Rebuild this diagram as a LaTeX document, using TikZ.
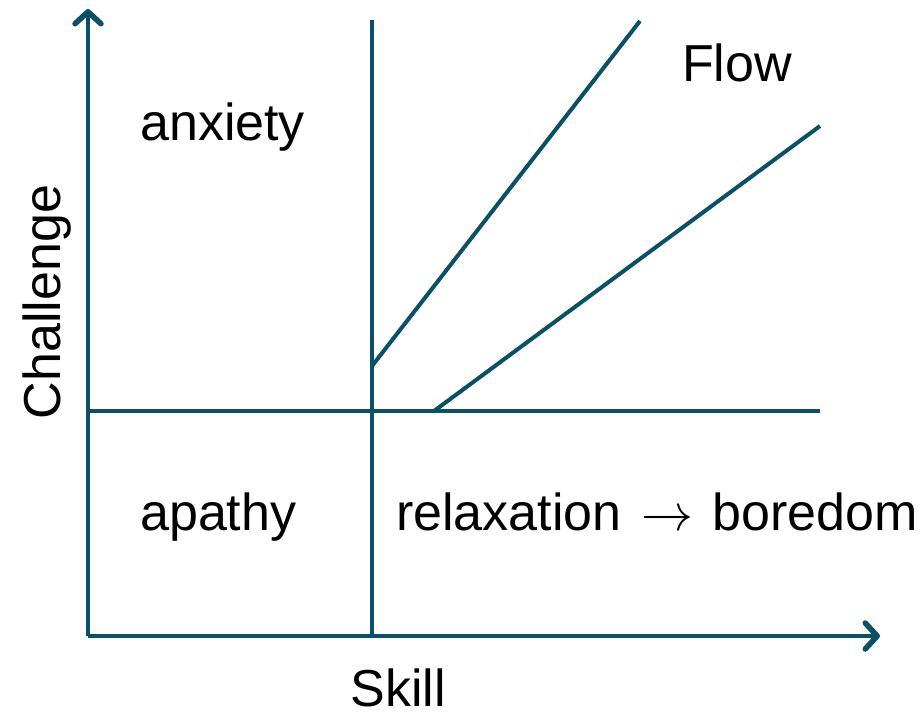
\RequirePackage{fix-cm}
\documentclass[tikz,border=0pt]{standalone}
\usepackage{fontspec}
\setmainfont{Liberation Sans}
\usetikzlibrary{arrows.meta}
\definecolor{flowteal}{RGB}{10,80,102}

\begin{document}
\begin{tikzpicture}[x=1pt, y=-1pt, >={Straight Barb[length=12pt,width=26pt,line width=5.5pt,line join=round,line cap=round]},
  axis/.style={line width=4pt, flowteal},
  zone/.style={font=\fontsize{52}{62}\selectfont, inner sep=0pt, anchor=base west}]
\useasboundingbox (0,0) rectangle (923,716);
% axes and grid
\coordinate (o) at (88,636);
\coordinate (ytip) at (88,9);
\coordinate (xtip) at (880,636);
\coordinate (vtop) at (372,20);
\coordinate (vbot) at (372,636);
\coordinate (hleft) at (88,411);
\coordinate (hright) at (820,411);
% flow channel
\coordinate (upstart) at (372,366);
\coordinate (upend) at (640,21);
\coordinate (lowstart) at (434,411);
\coordinate (lowend) at (820,126);
\draw[axis, ->] (o) -- (ytip);
\draw[axis, ->] (o) -- (xtip);
\draw[axis] (vbot) -- (vtop);
\draw[axis] (hleft) -- (hright);
\draw[axis] (upstart) -- (upend);
\draw[axis] (lowstart) -- (lowend);
% labels
\node[zone] (anx) at (140,140) {anxiety};
\node[zone] (flw) at (682,81) {Flow};
\node[zone] (apa) at (140,530) {apathy};
\node[zone] (rel) at (396,530) {relaxation\ \hspace{5pt}$\rightarrow$\hspace{5pt}\ boredom};
\node[zone, anchor=base] (skl) at (398,706) {Skill};
\node[zone, anchor=base, rotate=90] (chl) at (60,302) {Challenge};
\end{tikzpicture}
\end{document}
